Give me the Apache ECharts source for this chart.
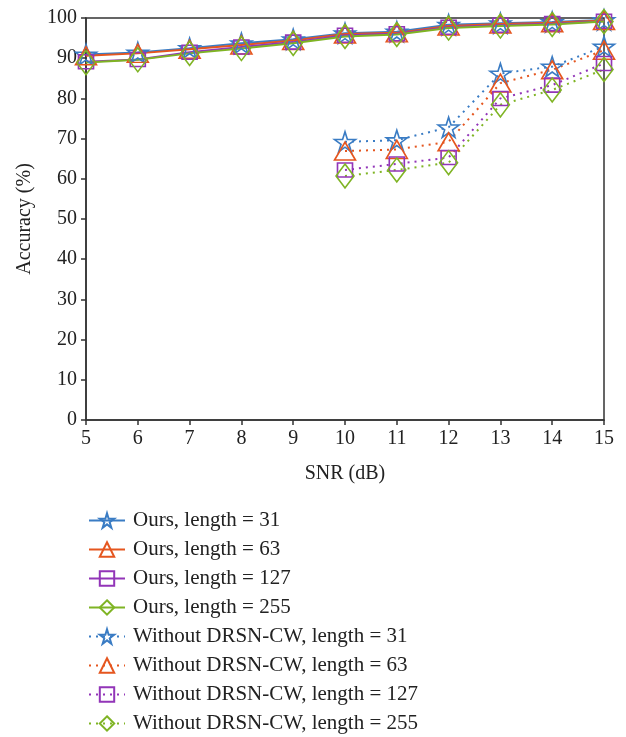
<!DOCTYPE html>
<html>
<head>
<meta charset="utf-8">
<script src="https://cdn.jsdelivr.net/npm/echarts@6/dist/echarts.min.js"></script>
<style>
  html, body { margin: 0; padding: 0; background: #fff; }
  #chart { width: 626px; height: 737px; }
</style>
</head>
<body>
<div id="chart"></div>
<script>
const snr = [5, 6, 7, 8, 9, 10, 11, 12, 13, 14, 15];
const snrLow = [10, 11, 12, 13, 14, 15];

const ours31 = [90.9, 91.4, 92.5, 93.7, 94.7, 96.2, 96.6, 98.3, 98.7, 99.0, 99.5];
const ours63 = [90.6, 91.2, 92.2, 93.3, 94.4, 96.0, 96.3, 98.0, 98.5, 98.8, 99.4];
const ours127 = [89.1, 89.7, 91.5, 92.8, 94.0, 95.7, 96.1, 97.7, 98.2, 98.6, 99.2];
const ours255 = [88.9, 89.6, 91.2, 92.4, 93.7, 95.4, 95.9, 97.5, 98.0, 98.4, 99.1];

const wo31 = [69.2, 69.6, 72.8, 86.2, 87.9, 92.9];
const wo63 = [66.9, 67.3, 69.2, 83.8, 87.1, 92.0];
const wo127 = [62.2, 63.7, 65.3, 80.0, 83.3, 88.7];
const wo255 = [60.7, 62.2, 64.0, 78.4, 82.1, 87.2];

const names = [
  'Ours, length = 31', 'Ours, length = 63', 'Ours, length = 127', 'Ours, length = 255',
  'Without DRSN-CW, length = 31', 'Without DRSN-CW, length = 63',
  'Without DRSN-CW, length = 127', 'Without DRSN-CW, length = 255'
];

const colors = ['#3a7cc4', '#e5561f', '#9235b8', '#7fb424'];
const star = 'path://M50,0 L61,35 L98,35 L68,57 L79,91 L50,70 L21,91 L32,57 L2,35 L39,35 Z';
const symbols = [star, 'triangle', 'rect', 'diamond'];
const sizes = [[21, 20], [21, 18], [15, 14], [18, 24]];

const font = 'Liberation Serif';

function pairs(xs, ys) {
  return xs.map((x, i) => [x, ys[i]]);
}

function makeSeries(name, xs, ys, k, dotted) {
  return {
    name: name,
    type: 'line',
    data: pairs(xs, ys),
    symbol: symbols[k],
    symbolSize: sizes[k],
    showSymbol: true,
    lineStyle: {
      color: colors[k],
      width: 2,
      type: dotted ? [2, 5] : 'solid'
    },
    itemStyle: {
      color: 'rgba(255,255,255,0)',
      borderColor: colors[k],
      borderWidth: 1.6
    },
    emphasis: { disabled: true },
    animation: false
  };
}

const series = [
  makeSeries(names[0], snr, ours31, 0, false),
  makeSeries(names[1], snr, ours63, 1, false),
  makeSeries(names[2], snr, ours127, 2, false),
  makeSeries(names[3], snr, ours255, 3, false),
  makeSeries(names[4], snrLow, wo31, 0, true),
  makeSeries(names[5], snrLow, wo63, 1, true),
  makeSeries(names[6], snrLow, wo127, 2, true),
  makeSeries(names[7], snrLow, wo255, 3, true)
];

const chart = echarts.init(document.getElementById('chart'), null, { renderer: 'canvas' });
chart.setOption({
  backgroundColor: '#fff',
  animation: false,
  grid: {
    left: 86,
    right: 22,
    top: 18,
    bottom: 317,
    show: true,
    borderColor: '#333',
    borderWidth: 1.5,
    backgroundColor: 'transparent'
  },
  legend: {
    orient: 'vertical',
    left: 88,
    top: 510,
    padding: 0,
    itemWidth: 36,
    itemHeight: 18,
    itemGap: 8,
    data: names,
    textStyle: { fontFamily: font, fontSize: 21, lineHeight: 21, color: '#222', padding: [0, 0, 0, 3] }
  },
  xAxis: {
    type: 'value',
    min: 5,
    max: 15,
    interval: 1,
    name: 'SNR (dB)',
    nameLocation: 'middle',
    nameGap: 44,
    nameTextStyle: { fontFamily: font, fontSize: 20, color: '#222' },
    axisLine: { lineStyle: { color: '#333', width: 1.5 } },
    axisTick: { inside: false, length: 5, lineStyle: { color: '#333', width: 1.5 } },
    axisLabel: { fontFamily: font, fontSize: 20, color: '#222', margin: 9 },
    splitLine: { show: false }
  },
  yAxis: {
    type: 'value',
    min: 0,
    max: 100,
    interval: 10,
    name: 'Accuracy (%)',
    nameLocation: 'middle',
    nameGap: 51,
    nameTextStyle: { fontFamily: font, fontSize: 20, color: '#222' },
    axisLine: { show: true, lineStyle: { color: '#333', width: 1.5 } },
    axisTick: { show: true, inside: false, length: 5, lineStyle: { color: '#333', width: 1.5 } },
    axisLabel: { fontFamily: font, fontSize: 20, color: '#222', margin: 9 },
    splitLine: { show: false }
  },
  series: series
});
</script>
</body>
</html>
